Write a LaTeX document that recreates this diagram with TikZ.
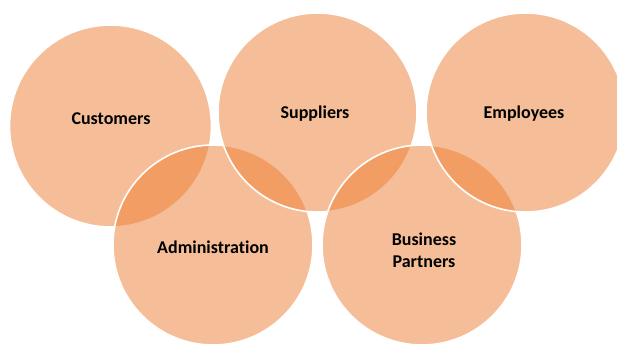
\documentclass[tikz,border=0pt]{standalone}
\usepackage{fontspec}
\setmainfont{Carlito}[Ligatures=NoCommon]
\definecolor{accent}{HTML}{ED7D31}

\begin{document}
\begin{tikzpicture}[x=1pt,y=1pt]
        \tikzstyle{ring}=[circle, draw=white, line width=1.6pt, fill=accent, fill opacity=0.5, inner sep=0pt]
        \tikzstyle{tag}=[anchor=base, inner sep=0pt, align=center, font=\bfseries\fontsize{18}{22}\selectfont]
        \useasboundingbox (0,0) rectangle (617,343);
        \clip (0,0) rectangle (617,343);
        % drawn back to front, so every ring lies over the one before it
        \node[ring, minimum size=202] (cust) at (110.5,217) {};
        \node[ring, minimum size=200] (admin) at (213,98) {};
        \node[ring, minimum size=199] (supp) at (317.5,230.5) {};
        \node[ring, minimum size=200] (partn) at (422,98) {};
        \node[ring, minimum size=199] (empl) at (525.5,230.5) {};
        \node[tag] (custlbl) at ([xshift=0.5,yshift=1.7]cust.center) {Customers};
        \node[tag] (adminlbl) at ([yshift=-8.3]admin.center) {Administration};
        \node[tag] (supplbl) at ([xshift=-2.5,yshift=-5.8]supp.center) {Suppliers};
        \node[tag] (partnlbl) at ([xshift=2,yshift=-22.7]partn.center) {Business\\Partners};
        \node[tag] (empllbl) at ([xshift=-1.5,yshift=-5.8]empl.center) {Employees};
\end{tikzpicture}
\end{document}
